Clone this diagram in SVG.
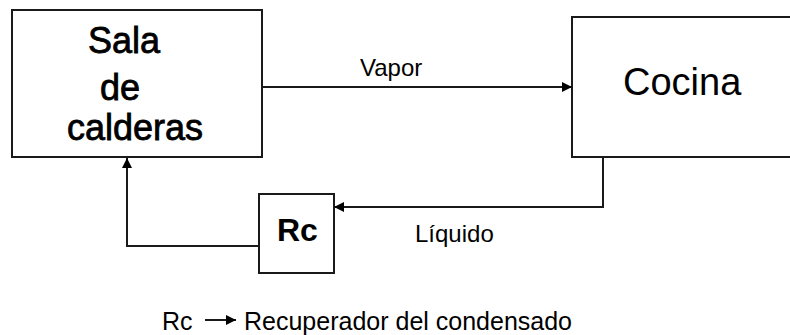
<svg xmlns="http://www.w3.org/2000/svg" width="790" height="335" viewBox="0 0 790 335">
<style>
.box{fill:#fff;stroke:#1a1a1a;stroke-width:2}
.ln{fill:none;stroke:#1a1a1a;stroke-width:2}
.big{font-family:"Liberation Sans",Arial,sans-serif;font-size:36px;fill:#000}
.heavy{stroke:#000;stroke-width:0.8}
.lbl{font-family:"Liberation Sans",Arial,sans-serif;font-size:24px;fill:#000}
.leg{font-family:"Liberation Sans",Arial,sans-serif;font-size:25px;fill:#000}
</style>
<defs>
<marker id="ah" viewBox="0 0 10 10" refX="10" refY="5" markerWidth="10" markerHeight="10" markerUnits="userSpaceOnUse" orient="auto">
<path d="M0,0 L10,5 L0,10 z" fill="#000"/>
</marker>
</defs>
<rect width="790" height="335" fill="#fff"/>
<g id="sala">
<rect class="box" x="12" y="10" width="250" height="147"/>
<text class="big heavy" x="88" y="53">Sala</text>
<text class="big heavy" x="100" y="100">de</text>
<text class="big heavy" x="67" y="140">calderas</text>
</g>
<g id="cocina">
<rect class="box" x="572" y="17" width="230" height="140"/>
<text class="big" x="623" y="95" style="font-size:38px">Cocina</text>
</g>
<g id="rc">
<rect class="box" x="259" y="194" width="75" height="79"/>
<text class="big" x="277" y="241" style="font-size:32px;font-weight:bold">Rc</text>
</g>
<g id="connectors">
<line class="ln" x1="262" y1="87" x2="572" y2="87" marker-end="url(#ah)"/>
<polyline class="ln" points="603,157 603,207 334,207" marker-end="url(#ah)"/>
<polyline class="ln" points="259,246 127,246 127,158" marker-end="url(#ah)"/>
</g>
<g id="labels">
<text class="lbl" x="360" y="76">Vapor</text>
<text class="lbl" x="415" y="242">Líquido</text>
</g>
<g id="legend">
<text class="leg" x="162" y="330">Rc</text>
<line class="ln" x1="205" y1="320" x2="236" y2="320" marker-end="url(#ah)"/>
<text class="leg" x="244" y="330">Recuperador del condensado</text>
</g>
</svg>
